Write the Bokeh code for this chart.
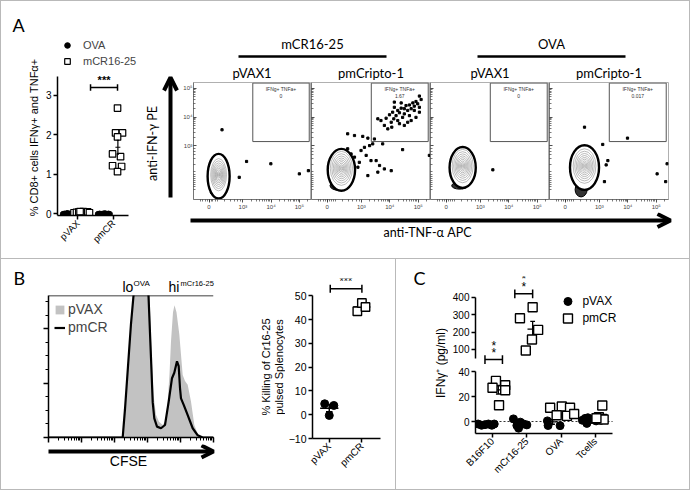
import math
import numpy as np
from bokeh.plotting import figure
from bokeh.layouts import row, column
from bokeh.models import (Range1d, FixedTicker, SingleIntervalTicker, Label, Arrow, OpenHead,
                          Legend, LegendItem, Span, Spacer, ColumnDataSource, CDSView,
                          BooleanFilter, CustomJSTickFormatter)
from bokeh.embed import file_html
from bokeh.resources import INLINE

SANS = "Liberation Sans"
HUM = "Lato"
BORDER = "#b9b9b9"

# ======================= DATA =======================
# Panel A (left): % CD8+ cells IFNg+ and TNFa+
A_groups = ["pVAX", "pmCR"]
A_group_pos = [1.15, 3.15]
A_yticks = [0, 1, 2, 3]
A_ova_pvax_dx = [-0.85, -0.76, -0.67, -0.58, -0.49, -0.40, -0.31, -0.62]
A_ova_pvax = [0.0, 0.01, 0.0, 0.02, 0.01, 0.0, 0.01, 0.02]
A_mcr_pvax_dx = [-0.22, -0.08, 0.05, 0.18, 0.30, 0.42, 0.55, 0.65, 0.12]
A_mcr_pvax = [0.03, 0.04, 0.05, 0.03, 0.06, 0.04, 0.05, 0.03, 0.06]
A_ova_pmcr_dx = [-0.88, -0.78, -0.68, -0.58, -0.48, -0.38, -0.28, -0.20]
A_ova_pmcr = [0.0, 0.01, 0.0, 0.01, 0.02, 0.0, 0.01, 0.0]
A_mcr_pmcr_dx = [0.23, 0.12, 0.51, 0.23, -0.05, 0.40, -0.05, 0.46, 0.23]
A_mcr_pmcr = [2.68, 2.05, 2.05, 1.95, 1.52, 1.45, 1.22, 1.20, 1.07]

# Panel A (right): flow cytometry (display units: decades, "0" at 1.8)
flow_groups = ["mCR16-25", "OVA"]
flow_titles = ["pVAX1", "pmCripto-1", "pVAX1", "pmCripto-1"]
flow_gate_pct = ["0", "1.67", "0", "0.017"]
flow_gate_x = [3.35, 5.35]
flow_gate_y = [3.15, 5.18]
flow_xticks = [1.8, 3, 4, 5]
flow_xlabels = ["0", "10³", "10⁴", "10⁵"]
flow_yticks = [3, 4, 5]
flow_ylabels = ["10³", "10⁴", "10⁵"]
pop_x = [2.14, 2.30, 2.38, 2.48]
pop_y = [2.00, 2.22, 2.30, 2.30]
pop_w = [0.56, 0.78, 0.74, 0.80]
pop_h = [1.12, 1.18, 1.16, 1.20]
ring_w = [0.78, 0.96, 0.92, 1.02]
ring_h = [1.55, 1.45, 1.42, 1.55]
tail_x = [2.12, 2.25, 2.27, 2.36]
tail_y = [1.38, 1.62, 1.62, 1.48]
tail_w = [0.55, 0.70, 0.55, 0.42]
tail_h = [0.24, 0.34, 0.24, 0.50]
contour_levels = [1.0, 0.86, 0.73, 0.61, 0.50, 0.40, 0.30, 0.21, 0.13, 0.06]
evt_x = [
    [2.26, 3.13, 3.99, 5.00, 2.87, 5.32],
    [5.04, 5.10, 4.92, 4.98, 4.81, 4.86, 4.69, 4.57, 5.04, 4.75, 4.51, 4.63, 4.40, 4.28, 4.16,
     4.34, 4.51, 4.86, 4.69, 4.45, 4.22, 4.10, 3.99, 4.14, 4.28, 4.51, 4.75, 4.92, 4.63, 4.34,
     4.05, 3.87, 3.81, 3.69, 3.58, 3.93, 4.07, 5.04, 4.16, 4.40,
     2.52, 2.76, 3.05, 3.23, 3.46, 3.40, 3.29, 3.11, 2.99, 3.17, 3.34, 3.52, 3.64, 3.58, 3.81,
     4.05, 3.75, 4.45, 5.39, 3.23, 2.88, 2.93, 2.76, 2.64, 2.52],
    [3.44],
    [2.48, 3.99, 3.12, 3.30, 3.24, 3.18, 5.03, 5.38, 5.33],
]
evt_y = [
    [3.56, 2.46, 2.38, 2.03, 1.91, 2.14],
    [4.73, 4.61, 4.54, 4.46, 4.49, 4.38, 4.42, 4.40, 4.34, 4.29, 4.29, 4.23, 4.31, 4.23, 4.34,
     4.15, 4.11, 4.23, 4.05, 3.99, 4.05, 4.17, 4.08, 3.94, 3.88, 3.71, 3.88, 3.99, 3.82, 3.77,
     3.82, 3.96, 3.71, 3.88, 3.94, 3.59, 3.65, 4.17, 4.52, 4.49,
     3.42, 3.36, 3.33, 3.27, 3.24, 3.07, 3.01, 2.95, 2.84, 2.67, 2.49, 2.49, 2.32, 2.09, 2.20,
     2.14, 3.07, 2.87, 2.67, 1.97, 2.26, 2.43, 2.61, 2.72, 2.90],
    [2.17],
    [3.65, 3.27, 3.05, 2.49, 2.34, 1.76, 2.03, 2.38, 1.76],
]

# Panel B (left): CFSE histogram
hist_pvax_x = [1, 157, 177, 208, 256, 316, 377, 448, 635, 966, 1150, 1322, 1520, 1810, 2229, 2888,
               3510, 4093, 4642, 5155, 5926, 6579, 7565, 9200, 11660, 13690, 16520, 20790, 26200,
               33200, 47100, 100000]
hist_pvax = [0, 0, 0, 57, 136, 214, 261, 418, 444, 392, 261, 157, 78, 42, 29, 23,
             31, 66, 117, 177, 230, 243, 230, 190, 115, 104, 97, 66, 23, 7, 0, 0]
hist_pmcr_x = [1, 157, 177, 208, 256, 316, 377, 448, 635, 901, 1072, 1277, 1438, 1607, 1941, 2565,
               3390, 4387, 5524, 6486, 7830, 8816, 9655, 10350, 12510, 16520, 23430, 33200, 47100,
               100000]
hist_pmcr = [0, 0, 0, 52, 130, 209, 261, 392, 418, 365, 261, 146, 65, 35, 20, 17,
             23, 66, 109, 119, 140, 131, 91, 72, 60, 41, 17, 4, 0, 0]

# Panel B (right): % killing
K_groups = ["pVAX", "pmCR"]
K_pvax_dx = [-0.14, 0.14, 0.0]
K_pvax = [4.6, 3.9, -0.3]
K_pmcr_dx = [-0.14, 0.0, 0.11]
K_pmcr = [43.5, 47.0, 45.3]

# Panel C: IFNg (pg/ml)
C_groups = ["B16F10", "mCr16-25", "OVA", "Tcells"]
C_series = ["pVAX", "pmCR"]
C_pvax_dx = [[-0.42, -0.32, -0.22, -0.12, -0.02, 0.05],
             [-0.39, -0.29, -0.19, -0.10, 0.0, -0.24],
             [-0.40, -0.38, -0.10, -0.03],
             [-0.38, -0.30, -0.22, -0.14, -0.06, 0.02, 0.10, 0.17, -0.25]]
C_pvax = [[-2.0, -3.0, -2.5, -2.0, -3.0, -2.0],
          [2.1, -3.2, -0.5, -1.9, -2.7, -5.3],
          [0.5, -3.2, 4.8, -3.3],
          [1.0, 2.5, 3.0, 1.5, 2.0, 0.5, 3.0, 1.0, -1.5]]
C_pmcr_dx = [[0.10, 0.0, 0.37, 0.37, 0.19],
             [0.17, -0.20, 0.33, 0.15, -0.03],
             [-0.32, 0.02, 0.26, -0.13, 0.17, 0.38],
             [0.20, 0.10, 0.20, 0.24, 0.03]]
C_pmcr = [[32.5, 27.0, 29.0, 25.0, 13.0],
          [344, 280, 213, 158, 94],
          [11.0, 12.0, 11.0, 5.0, 4.5, 6.0],
          [12.8, 3.4, 2.1, 1.6, 2.6]]
C_break = 45


# ======================= HELPERS =======================
def base_fig(w, h, xr, yr, l=0, r=0, t=0, b=0, **kw):
    p = figure(width=w, height=h, x_range=xr, y_range=yr, min_border_left=l, min_border_right=r,
               min_border_top=t, min_border_bottom=b, output_backend="svg",
               toolbar_location=None, **kw)
    p.frame_align = False
    p.grid.visible = False
    p.outline_line_color = None
    p.background_fill_color = "white"
    p.border_fill_color = "white"
    return p


def canvas(w, h):
    return base_fig(w, h, Range1d(0, w), Range1d(h, 0), x_axis_type=None, y_axis_type=None)


def lab(p, x, y, text, size, font=SANS, align="center", baseline="middle", angle=0,
        style="normal", color="black"):
    p.add_layout(Label(x=x, y=y, text=text, text_font=font, text_font_size=f"{size}px",
                       text_align=align, text_baseline=baseline, angle=angle,
                       text_font_style=style, text_color=color))


def arrow(p, x0, y0, x1, y1, size=13, lw=4):
    p.add_layout(Arrow(end=OpenHead(size=size, line_width=lw, line_color="black"),
                       x_start=x0, y_start=y0, x_end=x1, y_end=y1,
                       line_width=lw, line_color="black"))


def style_axes(p, size, lw=1.5):
    for ax in p.xaxis + p.yaxis:
        ax.axis_line_color = "black"
        ax.axis_line_width = lw
        ax.major_tick_line_color = "black"
        ax.major_tick_line_width = lw
        ax.major_tick_out = 4
        ax.major_tick_in = 0
        ax.minor_tick_line_color = None
        ax.major_label_text_font = SANS
        ax.major_label_text_font_size = f"{size}px"
        ax.major_label_text_color = "black"
        ax.major_label_standoff = 2


EMPTY = CustomJSTickFormatter(code="return ''")


def mean_sem(v):
    v = np.asarray(v, dtype=float)
    return float(v.mean()), float(v.std(ddof=1) / math.sqrt(len(v)))


def draw_mean(p, xc, vals, half=0.15, cap=0.07, lw=1.3):
    m, s = mean_sem(vals)
    p.segment(x0=[xc - half, xc, xc - cap, xc - cap], y0=[m, m - s, m - s, m + s],
              x1=[xc + half, xc, xc + cap, xc + cap], y1=[m, m + s, m - s, m + s],
              line_color="black", line_width=lw)


# ======================= PANEL A (688 x 257) =======================
leftA = canvas(40, 257)
lab(leftA, 11, 23, "A", 18, font=HUM, align="left")
lab(leftA, 32, 136, "% CD8+ cells IFNγ+ and TNFα+", 11, angle=math.pi / 2)

pa = base_fig(100, 257, Range1d(0, 4.73), Range1d(-0.04, 4.517), l=16, r=0, t=34, b=43)
style_axes(pa, 10)
pa.yaxis.ticker = FixedTicker(ticks=A_yticks)
pa.yaxis.bounds = (-0.04, 3.48)
pa.xaxis.bounds = (0, 4)
pa.xaxis.ticker = FixedTicker(ticks=A_group_pos)
pa.xaxis.major_label_overrides = {float(k): v for k, v in zip(A_group_pos, A_groups)}
pa.xaxis.major_label_orientation = math.pi / 4
pa.xaxis.major_label_text_font_size = "9.5px"

ova_x = [A_group_pos[0] + d for d in A_ova_pvax_dx] + [A_group_pos[1] + d for d in A_ova_pmcr_dx]
ova_y = A_ova_pvax + A_ova_pmcr
mcr_x = [A_group_pos[0] + d for d in A_mcr_pvax_dx] + [A_group_pos[1] + d for d in A_mcr_pmcr_dx]
mcr_y = A_mcr_pvax + A_mcr_pmcr
r_ova = pa.scatter(ova_x, ova_y, marker="circle", size=5, fill_color="black", line_color="black")
r_mcr = pa.scatter(mcr_x, mcr_y, marker="square", size=6.5, fill_color="white",
                   line_color="black", line_width=1.2)
draw_mean(pa, A_group_pos[1] + 0.25, A_mcr_pmcr, half=0.14, cap=0.06, lw=1.2)
sx0, sx1 = A_group_pos[0] + 0.71, A_group_pos[1] + 0.23
sy = max(A_mcr_pmcr) + 0.52
pa.segment(x0=[sx0, sx0, sx1], y0=[sy, sy - 0.08, sy - 0.08], x1=[sx1, sx0, sx1],
           y1=[sy, sy + 0.08, sy + 0.08], line_color="black", line_width=1.5)
lab(pa, (sx0 + sx1) / 2, sy + 0.05, "***", 11, baseline="bottom", style="bold")
leg = Legend(items=[LegendItem(label="OVA", renderers=[r_ova]),
                    LegendItem(label="mCR16-25", renderers=[r_mcr])],
             location=(3, 146), glyph_width=14, glyph_height=16, label_height=16, spacing=0,
             padding=0, margin=0, label_standoff=9, border_line_color=None,
             background_fill_alpha=0, label_text_font=SANS, label_text_font_size="11px")
pa.add_layout(leg)

minor_flow = ([1.5, 1.58, 1.66, 1.73, 1.8, 1.87, 1.94, 2.02, 2.1, 2.35, 2.55, 2.7, 2.82, 2.92] +
              [d + math.log10(k) for d in (3, 4) for k in range(2, 10)] + [5.0 + math.log10(2)])


def flow_fig(i, width, left, right):
    p = base_fig(width, 130, Range1d(1.25, 5.43), Range1d(1.14, 5.2), l=left, r=right, t=0, b=13)
    p.outline_line_color = "#b0b0b0"
    p.outline_line_width = 1
    for ax in p.xaxis + p.yaxis:
        ax.axis_line_color = "#666666"
        ax.axis_line_width = 0.8
        ax.major_tick_line_color = "#222222"
        ax.minor_tick_line_color = "#222222"
        ax.major_tick_line_width = 0.8
        ax.minor_tick_line_width = 0.6
        ax.major_label_text_font = SANS
        ax.major_label_text_font_size = "6px"
        ax.major_label_standoff = 1
    p.xaxis.ticker = FixedTicker(ticks=flow_xticks, minor_ticks=minor_flow)
    p.xaxis.major_label_overrides = {float(k): v for k, v in zip(flow_xticks, flow_xlabels)}
    p.xaxis.major_tick_out = 3
    p.xaxis.major_tick_in = 0
    p.xaxis.minor_tick_out = 2
    p.xaxis.minor_tick_in = 0
    p.yaxis.ticker = FixedTicker(ticks=flow_yticks, minor_ticks=minor_flow)
    p.yaxis.major_tick_out = 0
    p.yaxis.major_tick_in = 3
    p.yaxis.minor_tick_out = 0
    p.yaxis.minor_tick_in = 2
    if i == 0:
        p.yaxis.major_label_overrides = {float(k): v for k, v in zip(flow_yticks, flow_ylabels)}
    else:
        p.yaxis.formatter = EMPTY
        p.yaxis.major_label_standoff = 0
    p.quad(left=[flow_gate_x[0]], right=[flow_gate_x[1]], bottom=[flow_gate_y[0]],
           top=[flow_gate_y[1]], fill_color=None, line_color="#555555", line_width=1)
    gx = (flow_gate_x[0] + flow_gate_x[1]) / 2
    lab(p, gx, 4.96, "IFNg+ TNFa+", 5, color="#333333")
    lab(p, gx, 4.74, flow_gate_pct[i], 5, color="#333333")
    n = len(contour_levels)
    p.ellipse(x=[tail_x[i]], y=[tail_y[i]], width=[tail_w[i]], height=[tail_h[i]],
              fill_color="black", line_color="black", fill_alpha=0.8)
    p.ellipse(x=[pop_x[i]], y=[pop_y[i] - 0.05], width=[ring_w[i]], height=[ring_h[i]],
              fill_color="white", line_color="black", line_width=2.4)
    p.ellipse(x=[pop_x[i]] * n, y=[pop_y[i]] * n, width=[pop_w[i] * s for s in contour_levels],
              height=[pop_h[i] * s for s in contour_levels], fill_color=None,
              line_color="#8f8f8f", line_width=0.6)
    p.scatter(evt_x[i], evt_y[i], marker="square", size=2.2, fill_color="black",
              line_color="black")
    return p


f1 = flow_fig(0, 131, 12, 0)
f2 = flow_fig(1, 119, 0, 0)
f3 = flow_fig(2, 119, 0, 0)
f4 = flow_fig(3, 140, 0, 21)

header = canvas(509, 81)
centers = [12 + 59.5 + 119 * k for k in range(4)]
grp_lines = [(58, 206), (297, 445)]
header.segment(x0=[a for a, b in grp_lines], y0=[55, 55], x1=[b for a, b in grp_lines],
               y1=[55, 55], line_color="black", line_width=2.4)
for (a, b), g in zip(grp_lines, flow_groups):
    lab(header, (a + b) / 2, 42, g, 13, font=HUM)
for c, t in zip(centers, flow_titles):
    lab(header, c, 71, t, 13, font=HUM)

strip = canvas(39, 211)
arrow(strip, 29, 196, 29, 76)
lab(strip, 11, 142, "anti-IFN-γ PE", 12.5, font=HUM, angle=math.pi / 2)

footer = canvas(548, 46)
arrow(footer, 49, 8, 529, 8)
lab(footer, 286, 20, "anti-TNF-α APC", 12.5, font=HUM)

panelA = row(leftA, pa, column(row(strip, column(header, row(f1, f2, f3, f4))), footer))

# ======================= PANEL B (394 x 230) =======================
topB = canvas(224, 36)
lab(topB, 12, 18, "B", 18, font=HUM, align="left")
lab(topB, 121, 27, "lo", 14, align="left")
lab(topB, 132, 24, "OVA", 8, align="left")
lab(topB, 167, 27, "hi", 14, align="left")
lab(topB, 179, 24, "mCr16-25", 7.5, align="left")

ph = base_fig(224, 149, Range1d(1, 1e5), Range1d(0, 261), l=47, r=12, t=0, b=7,
              x_axis_type="log")
style_axes(ph, 1)
for ax in ph.xaxis + ph.yaxis:
    ax.formatter = EMPTY
    ax.major_label_standoff = 0
    ax.minor_tick_line_color = "black"
    ax.minor_tick_line_width = 1
    ax.minor_tick_out = 3
    ax.minor_tick_in = 0
    ax.major_tick_out = 5
ph.yaxis.ticker = SingleIntervalTicker(interval=100, num_minor_ticks=4)
r_g = ph.varea(x=hist_pvax_x, y1=[0] * len(hist_pvax_x), y2=hist_pvax, fill_color="#c2c2c2")
r_b = ph.line(hist_pmcr_x, hist_pmcr, line_color="black", line_width=2.2)
ph.add_layout(Span(location=261, dimension="width", line_color="black", line_width=1.5))
legh = Legend(items=[LegendItem(label="pVAX", renderers=[r_g]),
                     LegendItem(label="pmCR", renderers=[r_b])],
              location="top_left", margin=6, padding=0, glyph_width=11, glyph_height=11,
              label_height=13, spacing=2, label_standoff=3, border_line_color=None,
              background_fill_alpha=0, label_text_font=SANS, label_text_font_size="14px")
ph.add_layout(legh)

botB = canvas(224, 45)
arrow(botB, 47, 7, 212, 7, size=12)
lab(botB, 127, 16, "CFSE", 14)

histB = column(topB, ph, botB)

kcan = canvas(60, 230)
lab(kcan, 40, 107.5, "% Killing of Cr16-25", 11, angle=math.pi / 2)
lab(kcan, 53, 107.5, "pulsed Splenocytes", 11, angle=math.pi / 2)

pk = base_fig(110, 230, Range1d(0.486, 2.57), Range1d(-10, 57.3), l=22, r=15, t=19, b=51)
style_axes(pk, 10.5)
pk.yaxis.ticker = SingleIntervalTicker(interval=10)
pk.yaxis.bounds = (-10, 50)
pk.xaxis.ticker = FixedTicker(ticks=[1, 2])
pk.xaxis.major_label_overrides = {1.0: K_groups[0], 2.0: K_groups[1]}
pk.xaxis.major_label_orientation = math.pi / 4
pk.xaxis.major_label_text_font_size = "10px"
draw_mean(pk, 1, K_pvax, half=0.28, cap=0.1, lw=1.5)
draw_mean(pk, 2, K_pmcr, half=0.26, cap=0.1, lw=1.5)
pk.scatter([1 + d for d in K_pvax_dx], K_pvax, marker="circle", size=8, fill_color="black",
           line_color="black")
pk.scatter([2 + d for d in K_pmcr_dx], K_pmcr, marker="square", size=8.5, fill_color="white",
           line_color="black", line_width=1.4)
pk.segment(x0=[1.03, 1.03, 2.0], y0=[53, 51.3, 51.3], x1=[2.0, 1.03, 2.0], y1=[53, 54.7, 54.7],
           line_color="black", line_width=1.5)
lab(pk, 1.51, 53.6, "***", 11, baseline="bottom")

# ======================= PANEL C (293 x 230) =======================
def c_source(dx, vals):
    xs, ys = [], []
    for gi in range(len(C_groups)):
        xs += [gi + 1 + d for d in dx[gi]]
        ys += list(vals[gi])
    return ColumnDataSource(dict(x=xs, y=ys)), ys


src_pv, ys_pv = c_source(C_pvax_dx, C_pvax)
src_pm, ys_pm = c_source(C_pmcr_dx, C_pmcr)

pct = base_fig(241, 107, Range1d(0.504, 4.877), Range1d(1.9, 521), l=27, r=64, t=17, b=0)
pcb = base_fig(241, 123, Range1d(0.504, 4.877), Range1d(-9.6, 44), l=27, r=64, t=0, b=56)
for p in (pct, pcb):
    style_axes(p, 10)
pct.xaxis.visible = False
pct.yaxis.ticker = FixedTicker(ticks=[100, 200, 300, 400])
pct.yaxis.bounds = (46, 402)
pcb.yaxis.ticker = FixedTicker(ticks=[0, 20, 40])
pcb.yaxis.bounds = (-9.6, 40)
pcb.xaxis.ticker = FixedTicker(ticks=[1, 2, 3, 4])
pcb.xaxis.major_label_overrides = {float(k + 1): g for k, g in enumerate(C_groups)}
pcb.xaxis.major_label_orientation = math.pi / 4
pcb.xaxis.bounds = (0.504, 4.5)
pcb.line([0.504, 4.5], [0, 0], line_color="black", line_width=0.8, line_dash="2 2")

for p, top in ((pct, True), (pcb, False)):
    for gi in range(len(C_groups)):
        for dx, vals in ((-0.25, C_pvax[gi]), (0.17, C_pmcr[gi])):
            m, _ = mean_sem(vals)
            if (m >= C_break) == top:
                draw_mean(p, gi + 1 + dx, vals, half=0.15, cap=0.07, lw=1.3)

for p, top in ((pct, True), (pcb, False)):
    v1 = CDSView(filter=BooleanFilter([(y >= C_break) == top for y in ys_pv]))
    v2 = CDSView(filter=BooleanFilter([(y >= C_break) == top for y in ys_pm]))
    p.scatter("x", "y", source=src_pv, view=v1, marker="circle", size=8,
              fill_color="black", line_color="black")
    p.scatter("x", "y", source=src_pm, view=v2, marker="square", size=9,
              fill_color="white", line_color="black", line_width=1.4)

for x0, x1, yb, ys in ((0.78, 1.29, 42, (77, 123)), (1.65, 2.17, 421, (458, 504))):
    pct.segment(x0=[x0, x0, x1], y0=[yb, yb - 25, yb - 25], x1=[x1, x0, x1],
                y1=[yb, yb + 25, yb + 25], line_color="black", line_width=1.5)
    for yy in ys:
        lab(pct, (x0 + x1) / 2, yy, "*", 12, baseline="middle")

pct.scatter([3.2], [377], marker="circle", size=8, fill_color="black", line_color="black")
pct.scatter([3.2], [279], marker="square", size=9, fill_color="white", line_color="black",
            line_width=1.4)
lab(pct, 3.62, 377, C_series[0], 12, align="left")
lab(pct, 3.62, 279, C_series[1], 12, align="left")

cstrip = canvas(52, 230)
lab(cstrip, 17, 18, "C", 18, font=HUM, align="left")
lab(cstrip, 44, 103.5, "IFNγ⁺ (pg/ml)", 12, angle=math.pi / 2)

panelC = row(cstrip, column(pct, pcb))


# ======================= LAYOUT (690 x 490) =======================
def hline(w):
    return Spacer(width=w, height=1, styles={"background-color": BORDER})


def vline(h):
    return Spacer(width=1, height=h, styles={"background-color": BORDER})


root = column(hline(690),
              row(vline(257), panelA, vline(257)),
              hline(690),
              row(vline(230), histB, kcan, pk, vline(230), panelC, vline(230)),
              hline(690))

open("out.html", "w").write(file_html(root, INLINE, "chart"))
